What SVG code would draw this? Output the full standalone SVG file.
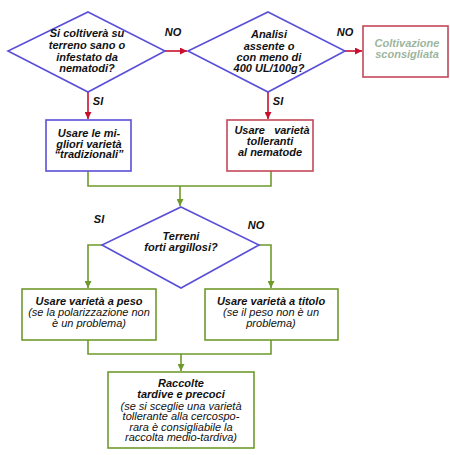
<svg xmlns="http://www.w3.org/2000/svg" width="450" height="455" viewBox="0 0 450 455">
<style>
text{font-family:"Liberation Sans",Arial,sans-serif;font-size:11px;text-anchor:middle;fill:#111}
.b{font-weight:bold;font-style:italic}
.i{font-style:italic}
.g{fill:#9db59d}
.dia{fill:#fff;stroke:#5a4fd8;stroke-width:1.6}
.bb{fill:#fff;stroke:#5a4fd8;stroke-width:1.6}
.rb{fill:#fff;stroke:#c44858;stroke-width:1.6}
.gb{fill:#fff;stroke:#6e9a2c;stroke-width:1.6}
.rl{fill:none;stroke:#c8102e;stroke-width:1.6}
.gl{fill:none;stroke:#6e9a2c;stroke-width:1.6}
</style>
<defs>
<marker id="ar" viewBox="0 0 10 10" refX="10" refY="5" markerWidth="7" markerHeight="7" markerUnits="userSpaceOnUse" orient="auto"><path d="M0,0L10,5L0,10z" fill="#c8102e"/></marker>
<marker id="ag" viewBox="0 0 10 10" refX="10" refY="5" markerWidth="7" markerHeight="7" markerUnits="userSpaceOnUse" orient="auto"><path d="M0,0L10,5L0,10z" fill="#6e9a2c"/></marker>
</defs>
<g id="connectors">
<path class="rl" d="M165,51H187" marker-end="url(#ar)"/>
<path class="rl" d="M345,51H362" marker-end="url(#ar)"/>
<path class="rl" d="M88,92V119" marker-end="url(#ar)"/>
<path class="rl" d="M268,92V119" marker-end="url(#ar)"/>
<path class="gl" d="M88,171V186H271V171"/>
<path class="gl" d="M180,186V206" marker-end="url(#ag)"/>
<path class="gl" d="M102,245H88V288" marker-end="url(#ag)"/>
<path class="gl" d="M259,245H271V288" marker-end="url(#ag)"/>
<path class="gl" d="M88,340V354H271V340"/>
<path class="gl" d="M181,354V371" marker-end="url(#ag)"/>
<text class="b" x="173" y="36">NO</text>
<text class="b" x="345" y="36">NO</text>
<text class="b" x="98" y="105">SI</text>
<text class="b" x="278" y="105">SI</text>
<text class="b" x="99" y="223">SI</text>
<text class="b" x="256" y="229">NO</text>
</g>
<g id="d1">
<path class="dia" d="M88,12L165,51L88,92L8,51z"/>
<text class="b" x="87" y="37">Si coltiverà su</text>
<text class="b" x="87" y="49">terreno sano o</text>
<text class="b" x="87" y="60.5">infestato da</text>
<text class="b" x="87" y="72">nematodi?</text>
</g>
<g id="d2">
<path class="dia" d="M268,12L345,51L268,92L188,51z"/>
<text class="b" x="269" y="38">Analisi</text>
<text class="b" x="269" y="49.5">assente o</text>
<text class="b" x="269" y="61">con meno di</text>
<text class="b" x="269" y="72">400 UL/100g?</text>
</g>
<g id="n-sconsigliata">
<rect class="rb" x="363" y="26" width="85" height="51"/>
<text class="b g" x="407" y="47">Coltivazione</text>
<text class="b g" x="407" y="58">sconsigliata</text>
</g>
<g id="n-tradizionali">
<rect class="bb" x="46" y="120" width="85" height="51"/>
<text class="b" x="89" y="137">Usare le mi-</text>
<text class="b" x="89" y="147.5">gliori varietà</text>
<text class="b" x="89" y="158">“tradizionali”</text>
</g>
<g id="n-tolleranti">
<rect class="rb" x="227" y="120" width="86" height="51"/>
<text class="b" x="272" y="134" xml:space="preserve">Usare   varietà</text>
<text class="b" x="270" y="145">tolleranti</text>
<text class="b" x="270" y="156">al nematode</text>
</g>
<g id="d3">
<path class="dia" d="M181,207L259,245L181,288L102,245z"/>
<text class="b" x="181" y="240">Terreni</text>
<text class="b" x="181" y="251">forti argillosi?</text>
</g>
<g id="n-peso">
<rect class="gb" x="22" y="289" width="134" height="51"/>
<text class="b" x="89" y="305">Usare varietà a peso</text>
<text class="i" x="89" y="316">(se la polarizzazione non</text>
<text class="i" x="89" y="327">è un problema)</text>
</g>
<g id="n-titolo">
<rect class="gb" x="205" y="289" width="133" height="51"/>
<text class="b" x="271" y="305">Usare varietà a titolo</text>
<text class="i" x="271" y="316">(se il peso non è un</text>
<text class="i" x="271" y="327">problema)</text>
</g>
<g id="n-raccolte">
<rect class="gb" x="108" y="372" width="146" height="76"/>
<text class="b" x="181" y="387">Raccolte</text>
<text class="b" x="181" y="398">tardive e precoci</text>
<text class="i" x="181" y="409.5">(se si sceglie una varietà</text>
<text class="i" x="181" y="420">tollerante alla cercospo-</text>
<text class="i" x="181" y="430.5">rara è consigliabile la</text>
<text class="i" x="181" y="441">raccolta medio-tardiva)</text>
</g>
</svg>
